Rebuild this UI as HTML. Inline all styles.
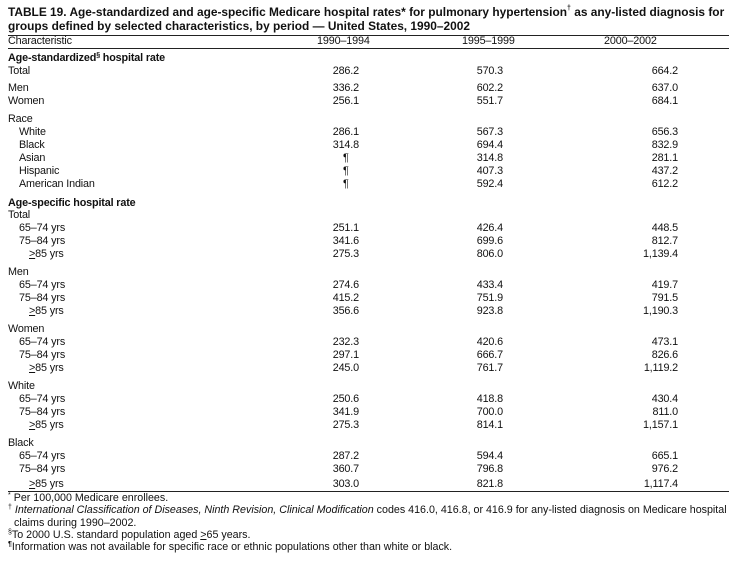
<!DOCTYPE html>
<html><head><meta charset="utf-8"><style>
body{margin:0;width:736px;height:563px;background:#fff;position:relative;font-family:"Liberation Sans",Arial,sans-serif;color:#111;overflow:hidden}
.t{position:absolute;font-size:10.8px;line-height:13px;white-space:nowrap;letter-spacing:-0.15px}
.b{font-weight:bold}
.ttl{position:absolute;left:8px;font-size:11.9px;font-weight:bold;line-height:15px;white-space:nowrap}
.r{text-align:right;width:80px}
.c1{left:279px}.c2{left:423px}.c3{left:598px}
.hr{position:absolute;left:8px;width:721px;height:1px;background:#222}
.f{font-size:10.7px;letter-spacing:0}
sup{font-size:7px;vertical-align:top;line-height:7px}
u{text-decoration:underline}
</style></head><body>
<div class="ttl" style="top:5px">TABLE 19. Age-standardized and age-specific Medicare hospital rates* for pulmonary hypertension<sup>†</sup> as any-listed diagnosis for</div>
<div class="ttl" style="top:19px">groups defined by selected characteristics, by period — United States, 1990–2002</div>
<div class="hr" style="top:35px"></div>
<div class="t" style="left:8px;top:35px">Characteristic</div>
<div class="t" style="left:317px;top:35px">1990–1994</div>
<div class="t" style="left:462px;top:35px">1995–1999</div>
<div class="t" style="left:604px;top:35px">2000–2002</div>
<div class="hr" style="top:48px"></div>
<div id="rows"></div>
<div class="hr" style="top:491px"></div>
<div class="t f" style="left:8px;top:492px"><sup>*</sup> Per 100,000 Medicare enrollees.</div>
<div class="t f" style="left:8px;top:504px"><sup>†</sup> <i>International Classification of Diseases, Ninth Revision, Clinical Modification</i> codes 416.0, 416.8, or 416.9 for any-listed diagnosis on Medicare hospital</div>
<div class="t f" style="left:14px;top:517px">claims during 1990–2002.</div>
<div class="t f" style="left:8px;top:529px"><sup>§</sup>To 2000 U.S. standard population aged <u>&gt;</u>65 years.</div>
<div class="t f" style="left:8px;top:541px"><sup><b>¶</b></sup>Information was not available for specific race or ethnic populations other than white or black.</div>
<script>
var R=[
[59,0,'<b>Age-standardized<sup>§</sup> hospital rate</b>'],
[72,0,'Total','286.2','570.3','664.2'],
[89,0,'Men','336.2','602.2','637.0'],
[102,0,'Women','256.1','551.7','684.1'],
[120,0,'Race'],
[133,1,'White','286.1','567.3','656.3'],
[146,1,'Black','314.8','694.4','832.9'],
[159,1,'Asian','¶','314.8','281.1'],
[172,1,'Hispanic','¶','407.3','437.2'],
[185,1,'American Indian','¶','592.4','612.2'],
[204,0,'<b>Age-specific hospital rate</b>'],
[216,0,'Total'],
[229,1,'65–74 yrs','251.1','426.4','448.5'],
[242,1,'75–84 yrs','341.6','699.6','812.7'],
[255,2,'<u>&gt;</u>85 yrs','275.3','806.0','1,139.4'],
[273,0,'Men'],
[286,1,'65–74 yrs','274.6','433.4','419.7'],
[299,1,'75–84 yrs','415.2','751.9','791.5'],
[312,2,'<u>&gt;</u>85 yrs','356.6','923.8','1,190.3'],
[330,0,'Women'],
[343,1,'65–74 yrs','232.3','420.6','473.1'],
[356,1,'75–84 yrs','297.1','666.7','826.6'],
[369,2,'<u>&gt;</u>85 yrs','245.0','761.7','1,119.2'],
[387,0,'White'],
[400,1,'65–74 yrs','250.6','418.8','430.4'],
[413,1,'75–84 yrs','341.9','700.0','811.0'],
[426,2,'<u>&gt;</u>85 yrs','275.3','814.1','1,157.1'],
[444,0,'Black'],
[457,1,'65–74 yrs','287.2','594.4','665.1'],
[470,1,'75–84 yrs','360.7','796.8','976.2'],
[485,2,'<u>&gt;</u>85 yrs','303.0','821.8','1,117.4']];
var h='',L=[8,19,29];
R.forEach(function(r){var t=r[0]-7;
h+='<div class="t" style="left:'+L[r[1]]+'px;top:'+t+'px">'+r[2]+'</div>';
if(r[3]){
h+=r[3]=='¶'?'<div class="t" style="left:343px;top:'+t+'px">¶</div>':'<div class="t r c1" style="top:'+t+'px">'+r[3]+'</div>';
h+='<div class="t r c2" style="top:'+t+'px">'+r[4]+'</div>';
h+='<div class="t r c3" style="top:'+t+'px">'+r[5]+'</div>';}
});
document.getElementById('rows').innerHTML=h;
</script>
</body></html>
